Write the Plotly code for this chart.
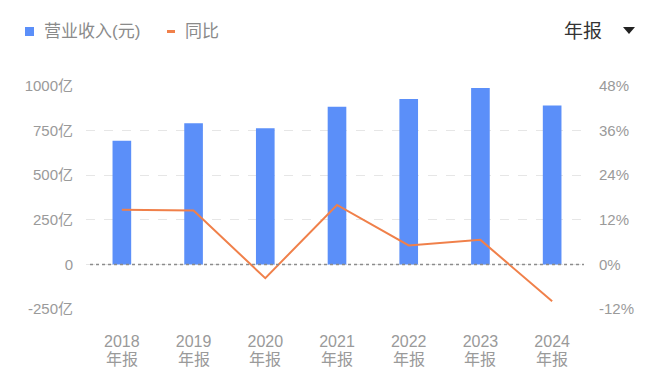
import plotly.graph_objects as go

# ---- data ----
years = ["2018", "2019", "2020", "2021", "2022", "2023", "2024"]
period = "年报"
revenue = [693, 791, 763, 884, 927, 989, 890]          # 亿元
yoy = [14.7, 14.5, -3.7, 16.0, 5.1, 6.6, -9.9]          # %
left_ticks = [-250, 0, 250, 500, 750, 1000]
left_labels = ["-250亿", "0", "250亿", "500亿", "750亿", "1000亿"]
right_ticks = [-12, 0, 12, 24, 36, 48]
right_labels = ["-12%", "0%", "12%", "24%", "36%", "48%"]
legend_names = ["营业收入(元)", "同比"]

W, H = 660, 381
ML, MR, MT, MB = 86, 72, 86, 72
PW, PH = W - ML - MR, H - MT - MB

def px(x):
    return (x - ML) / PW

def py(y):
    return (H - MB - y) / PH

FONT = "Liberation Sans, Noto Sans CJK SC, sans-serif"
BLUE = "#5b8ff9"
ORANGE = "#f0804a"
GRAY = "#9a9a9a"

fig = go.Figure()
fig.add_trace(go.Bar(x=years, y=revenue, name=legend_names[0],
                     marker=dict(color=BLUE, line=dict(width=0)),
                     width=0.26, showlegend=False))
fig.add_trace(go.Scatter(x=years, y=yoy, name=legend_names[1], yaxis="y2",
                         mode="lines", line=dict(color=ORANGE, width=2),
                         showlegend=False))

shapes = [
    # zero line (dotted)
    dict(type="line", xref="paper", yref="y", x0=0.008, x1=0.992, y0=0, y1=0,
         line=dict(color="#8c8c8c", width=1.5, dash="dot"), layer="above"),
    # legend symbols
    dict(type="rect", xref="paper", yref="paper", x0=px(25), x1=px(34), y0=py(36), y1=py(27),
         fillcolor=BLUE, line=dict(width=0)),
    dict(type="line", xref="paper", yref="paper", x0=px(167), x1=px(175), y0=py(31.5), y1=py(31.5),
         line=dict(color=ORANGE, width=3)),
    # dropdown triangle
    dict(type="path", xref="paper", yref="paper",
         path=f"M {px(623)} {py(27)} L {px(635)} {py(27)} L {px(629)} {py(34)} Z",
         fillcolor="#222222", line=dict(width=0)),
]

annotations = [
    dict(text=legend_names[0], x=px(42), y=py(32), xref="paper", yref="paper",
         xanchor="left", yanchor="middle", showarrow=False,
         font=dict(size=17, color="#8a8a8a", family=FONT)),
    dict(text=legend_names[1], x=px(183), y=py(32), xref="paper", yref="paper",
         xanchor="left", yanchor="middle", showarrow=False,
         font=dict(size=17, color="#8a8a8a", family=FONT)),
    dict(text=period, x=px(562), y=py(32), xref="paper", yref="paper",
         xanchor="left", yanchor="middle", showarrow=False,
         font=dict(size=19, color="#333333", family=FONT)),
]
# second line of the category labels (x given as category index)
for i, yr in enumerate(years):
    annotations.append(dict(text=period, x=i, y=py(350), xref="x", yref="paper",
                            xanchor="center", yanchor="top", showarrow=False,
                            borderpad=0,
                            font=dict(size=16, color=GRAY, family=FONT)))

fig.update_layout(
    width=W, height=H,
    margin=dict(l=ML, r=MR, t=MT, b=MB),
    paper_bgcolor="white", plot_bgcolor="white",
    font=dict(family=FONT, color=GRAY, size=15),
    xaxis=dict(type="category", range=[-0.5, len(years) - 0.5],
               showgrid=False, showline=False, zeroline=False, ticks="",
               tickfont=dict(size=16, color=GRAY), ticklabelstandoff=21),
    yaxis=dict(range=[-250, 1000], tickvals=left_ticks, ticktext=left_labels,
               showgrid=True, gridcolor="#e6e6e6", griddash="dash", gridwidth=1,
               zeroline=False, showline=False, ticks="",
               tickfont=dict(size=15, color=GRAY), ticklabelstandoff=12),
    yaxis2=dict(range=[-12, 48], tickvals=right_ticks, ticktext=right_labels,
                overlaying="y", side="right", showgrid=False, zeroline=False,
                showline=False, ticks="",
                tickfont=dict(size=15, color=GRAY), ticklabelstandoff=10),
    shapes=shapes,
    annotations=annotations,
    showlegend=False,
)

fig.write_html("out.html", config={"displayModeBar": False},
               post_script="document.body.style.margin='0';")
